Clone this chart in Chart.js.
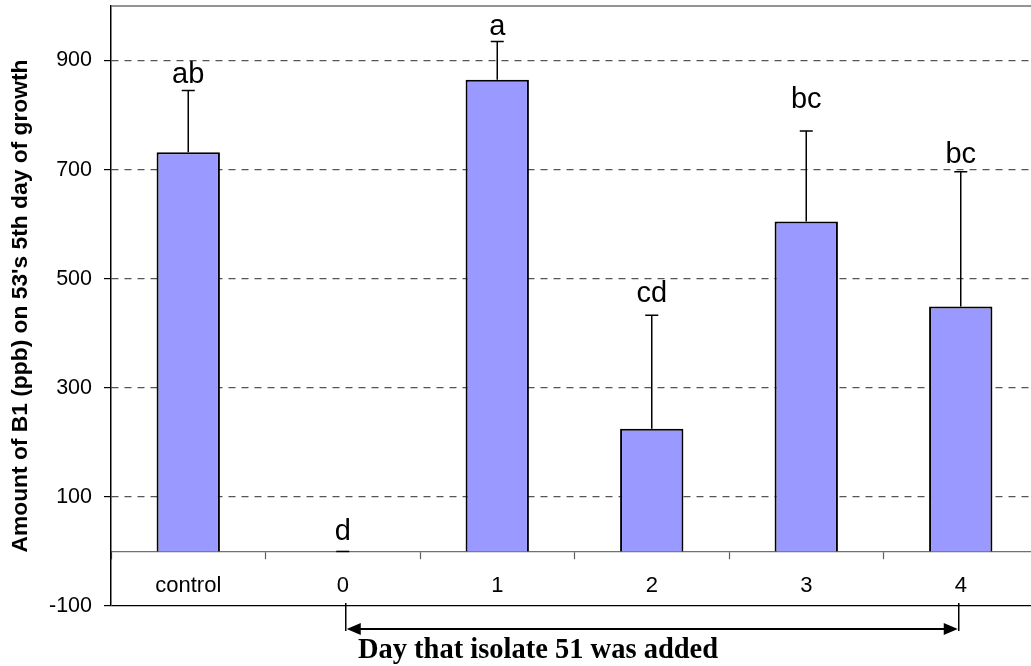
<!DOCTYPE html>
<html><head><meta charset="utf-8">
<script src="https://cdn.jsdelivr.net/npm/chart.js@4"></script>
<style>
html,body{margin:0;padding:0;overflow:hidden;background:#fff}
#wrap{position:relative;width:1040px;height:666px}
</style>
</head><body><div id="wrap"><canvas id="c"></canvas></div>
<script>
const categories = ['control', '0', '1', '2', '3', '4'];
const meanB1 = [732, 0, 865, 225, 605, 449];
const errorUpper = [845, 0, 935, 433, 771, 696];
const groupLetters = ['ab', 'd', 'a', 'cd', 'bc', 'bc'];
const letterBaseline = [858, 21, 947, 458, 813, 712];
const yTickValues = [-100, 100, 300, 500, 700, 900];
const yMin = -100, yMax = 1000;
const yTitle = "Amount of B1 (ppb) on 53's 5th day of growth";
const xTitle = "Day that isolate 51 was added";
const arrowFrom = 1, arrowTo = 5;

const SANS = "'Liberation Sans', Arial, sans-serif";
const SERIF = "'Liberation Serif', 'Times New Roman', serif";

const framePlugin = {
  id: 'frame',
  beforeDatasetsDraw(chart) {
    const {ctx, chartArea} = chart;
    ctx.save();
    ctx.strokeStyle = '#707070';
    ctx.lineWidth = 1.5;
    ctx.beginPath();
    ctx.moveTo(chartArea.left, chartArea.top);
    ctx.lineTo(chartArea.right, chartArea.top);
    ctx.stroke();
    ctx.restore();
  }
};

const errorPlugin = {
  id: 'errbars',
  afterDatasetsDraw(chart) {
    const {ctx} = chart;
    const meta = chart.getDatasetMeta(0);
    const y = chart.scales.y;
    ctx.save();
    ctx.strokeStyle = '#000';
    ctx.lineWidth = 1.5;
    meta.data.forEach((bar, i) => {
      const x = bar.x;
      const yb = y.getPixelForValue(meanB1[i]);
      const yt = y.getPixelForValue(errorUpper[i]);
      ctx.beginPath();
      ctx.moveTo(x, yb);
      ctx.lineTo(x, yt);
      ctx.moveTo(x - 6.5, yt);
      ctx.lineTo(x + 6.5, yt);
      ctx.stroke();
    });
    ctx.fillStyle = '#000';
    ctx.font = '29px ' + SANS;
    ctx.textAlign = 'center';
    ctx.textBaseline = 'alphabetic';
    meta.data.forEach((bar, i) => {
      ctx.fillText(groupLetters[i], bar.x, y.getPixelForValue(letterBaseline[i]));
    });
    ctx.restore();
  }
};

const xTitlePlugin = {
  id: 'xtitle',
  afterDraw(chart) {
    const {ctx, chartArea} = chart;
    const xs = chart.scales.x;
    const x1 = xs.getPixelForValue(arrowFrom) + 3;
    const x2 = xs.getPixelForValue(arrowTo) - 2;
    const ay = chartArea.bottom + 23;
    ctx.save();
    ctx.strokeStyle = '#000';
    ctx.fillStyle = '#000';
    ctx.lineWidth = 1.5;
    ctx.beginPath();
    ctx.moveTo(x1, chartArea.bottom - 3);
    ctx.lineTo(x1, ay + 2);
    ctx.moveTo(x2, chartArea.bottom - 3);
    ctx.lineTo(x2, ay + 2);
    ctx.stroke();
    ctx.lineWidth = 2;
    ctx.beginPath();
    ctx.moveTo(x1 + 10, ay);
    ctx.lineTo(x2 - 10, ay);
    ctx.stroke();
    ctx.beginPath();
    ctx.moveTo(x1 + 1, ay);
    ctx.lineTo(x1 + 15, ay - 6);
    ctx.lineTo(x1 + 15, ay + 6);
    ctx.closePath();
    ctx.fill();
    ctx.beginPath();
    ctx.moveTo(x2 - 1, ay);
    ctx.lineTo(x2 - 15, ay - 6);
    ctx.lineTo(x2 - 15, ay + 6);
    ctx.closePath();
    ctx.fill();
    ctx.font = 'bold 28.5px ' + SERIF;
    ctx.textAlign = 'center';
    ctx.textBaseline = 'alphabetic';
    ctx.fillText(xTitle, 538, chartArea.bottom + 52);
    ctx.restore();
  }
};

new Chart(document.getElementById('c'), {
  type: 'bar',
  data: {
    labels: categories,
    datasets: [{
      data: meanB1,
      backgroundColor: '#9999FF',
      borderColor: '#000',
      borderWidth: 2,
      categoryPercentage: 1,
      barPercentage: 0.41
    }]
  },
  options: {
    responsive: true,
    maintainAspectRatio: false,
    animation: false,
    events: [],
    layout: {padding: {top: 6, right: 2, bottom: 60, left: 0}},
    plugins: {legend: {display: false}, tooltip: {enabled: false}, title: {display: false}},
    scales: {
      x: {
        position: {y: 0},
        offset: true,
        grid: {
          display: true, offset: true, drawOnChartArea: false, drawTicks: true,
          tickLength: 7, tickColor: '#606060', tickWidth: 1.2
        },
        border: {display: true, color: '#707070', width: 1.2},
        ticks: {color: '#000', font: {family: SANS, size: 22}, padding: 14, maxRotation: 0, autoSkip: false}
      },
      y: {
        min: yMin, max: yMax,
        afterBuildTicks(scale) { scale.ticks = yTickValues.map(v => ({value: v})); },
        afterFit(scale) { scale.width = 111; scale.paddingTop = 0; scale.paddingBottom = 0; },
        grid: {
          color: (c) => (c.tick && c.tick.value === yMin) ? '#000' : '#555',
          lineWidth: 1.2,
          tickLength: 7, tickColor: '#000', tickWidth: 1.2, tickBorderDash: []
        },
        border: {
          display: true, color: '#000', width: 1.5,
          dash: (c) => (c.tick && c.tick.value > yMin) ? [7, 6] : []
        },
        ticks: {color: '#000', font: {family: SANS, size: 21.5}, padding: 12},
        title: {
          display: true, text: yTitle, color: '#000',
          font: {family: SANS, size: 22.8, weight: 'bold'},
          padding: {top: 7, bottom: 0}
        }
      }
    }
  },
  plugins: [framePlugin, errorPlugin, xTitlePlugin]
});
</script>
</body></html>
